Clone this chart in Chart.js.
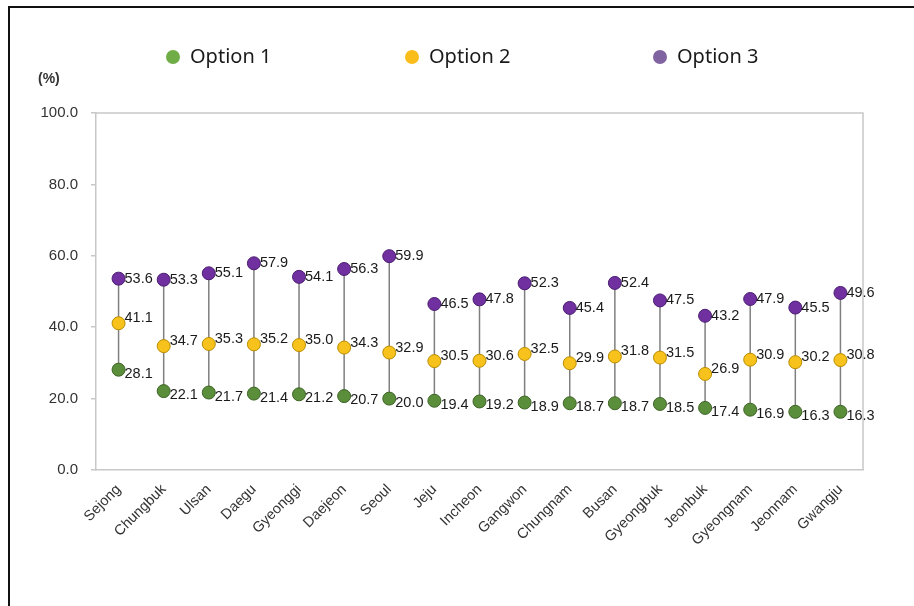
<!DOCTYPE html>
<html>
<head>
<meta charset="utf-8">
<script src="https://cdn.jsdelivr.net/npm/chart.js@4/dist/chart.umd.min.js"></script>
<style>
  html, body { margin: 0; padding: 0; background: #fff; }
  #wrap { position: relative; width: 914px; height: 606px; }
  #frame { position: absolute; left: 8px; top: 6px; right: -4px; bottom: -4px; border-top: 2px solid #111; border-left: 2px solid #111; pointer-events: none; }
</style>
</head>
<body>
<div id="wrap">
  <canvas id="chart" width="914" height="606"></canvas>
  <div id="frame"></div>
</div>
<script>
const regions = ['Sejong','Chungbuk','Ulsan','Daegu','Gyeonggi','Daejeon','Seoul','Jeju','Incheon','Gangwon','Chungnam','Busan','Gyeongbuk','Jeonbuk','Gyeongnam','Jeonnam','Gwangju'];
const option1 = [28.1, 22.1, 21.7, 21.4, 21.2, 20.7, 20.0, 19.4, 19.2, 18.9, 18.7, 18.7, 18.5, 17.4, 16.9, 16.3, 16.3];
const option2 = [41.1, 34.7, 35.3, 35.2, 35.0, 34.3, 32.9, 30.5, 30.6, 32.5, 29.9, 31.8, 31.5, 26.9, 30.9, 30.2, 30.8];
const option3 = [53.6, 53.3, 55.1, 57.9, 54.1, 56.3, 59.9, 46.5, 47.8, 52.3, 45.4, 52.4, 47.5, 43.2, 47.9, 45.5, 49.6];
const yTicks = [0, 20, 40, 60, 80, 100];

const FONT = 'Arial, "Liberation Sans", sans-serif';

// legend swatch colours differ slightly from the marker fills
const series = [
  { label: 'Option 1', data: option1, fill: '#5b8e3b', stroke: '#3d6325', swatch: '#70ad47', legendX: 173, dy: 4 },
  { label: 'Option 2', data: option2, fill: '#f8c21c', stroke: '#b98c00', swatch: '#fbbd1a', legendX: 412, dy: -5 },
  { label: 'Option 3', data: option3, fill: '#7030a0', stroke: '#4a1d70', swatch: '#8064a2', legendX: 660, dy: 0 },
];

// vertical range line behind the markers
const rangeLines = {
  id: 'rangeLines',
  beforeDatasetsDraw(chart) {
    const { ctx, scales: { x, y } } = chart;
    ctx.save();
    ctx.strokeStyle = '#7f7f7f';
    ctx.lineWidth = 1.5;
    regions.forEach((r, i) => {
      const vals = series.map(s => s.data[i]);
      const px = x.getPixelForValue(i);
      ctx.beginPath();
      ctx.moveTo(px, y.getPixelForValue(Math.min(...vals)));
      ctx.lineTo(px, y.getPixelForValue(Math.max(...vals)));
      ctx.stroke();
    });
    ctx.restore();
  }
};

// value labels, legend, unit and the top/right edges of the plot box
const decorations = {
  id: 'decorations',
  afterDraw(chart) {
    const { ctx, chartArea: a, scales: { x, y } } = chart;
    ctx.save();
    ctx.strokeStyle = '#c8c8c8';
    ctx.lineWidth = 1.5;
    ctx.beginPath();
    ctx.moveTo(a.left, a.top);
    ctx.lineTo(a.right, a.top);
    ctx.lineTo(a.right, a.bottom);
    ctx.stroke();

    ctx.font = '14.5px ' + FONT;
    ctx.fillStyle = '#1a1a1a';
    ctx.textAlign = 'left';
    ctx.textBaseline = 'middle';
    series.forEach(s => {
      s.data.forEach((v, i) => {
        ctx.fillText(v.toFixed(1), x.getPixelForValue(i) + 6, y.getPixelForValue(v) + s.dy);
      });
    });

    ctx.font = '20px "Noto Sans", "Open Sans", sans-serif';
    series.forEach(s => {
      ctx.fillStyle = s.swatch;
      ctx.beginPath();
      ctx.arc(s.legendX, 57, 7, 0, Math.PI * 2);
      ctx.fill();
      ctx.fillStyle = '#1a1a1a';
      ctx.fillText(s.label, s.legendX + 17, 57);
    });

    ctx.font = 'bold 14px ' + FONT;
    ctx.fillStyle = '#333';
    ctx.fillText('(%)', 38, 79);
    ctx.restore();
  }
};

new Chart(document.getElementById('chart'), {
  type: 'line',
  data: {
    labels: regions,
    datasets: series.map(s => ({
      label: s.label,
      data: s.data,
      showLine: false,
      pointRadius: 6.5,
      pointHoverRadius: 6.5,
      pointBackgroundColor: s.fill,
      pointBorderColor: s.stroke,
      pointBorderWidth: 1,
    })),
  },
  options: {
    responsive: false,
    animation: false,
    layout: { padding: { left: 0, top: 113, right: 51, bottom: 0 } },
    plugins: { legend: { display: false }, tooltip: { enabled: false } },
    scales: {
      x: {
        offset: true,
        afterFit: s => { s.height = 136; },
        grid: { display: false },
        border: { display: true, color: '#c8c8c8', width: 1.5 },
        ticks: {
          maxRotation: 45, minRotation: 45, padding: 3,
          color: '#333',
          font: { family: FONT, size: 14.5 },
        },
      },
      y: {
        min: 0, max: 100,
        afterFit: s => { s.width = 96; },
        afterBuildTicks: s => { s.ticks = yTicks.map(v => ({ value: v })); },
        grid: { drawOnChartArea: false, drawTicks: true, tickLength: 5, color: '#c8c8c8', lineWidth: 1.5 },
        border: { display: true, color: '#c8c8c8', width: 1.5 },
        ticks: {
          padding: 13,
          color: '#333',
          font: { family: FONT, size: 15 },
          callback: v => v.toFixed(1),
        },
      },
    },
  },
  plugins: [rangeLines, decorations],
});
</script>
</body>
</html>
